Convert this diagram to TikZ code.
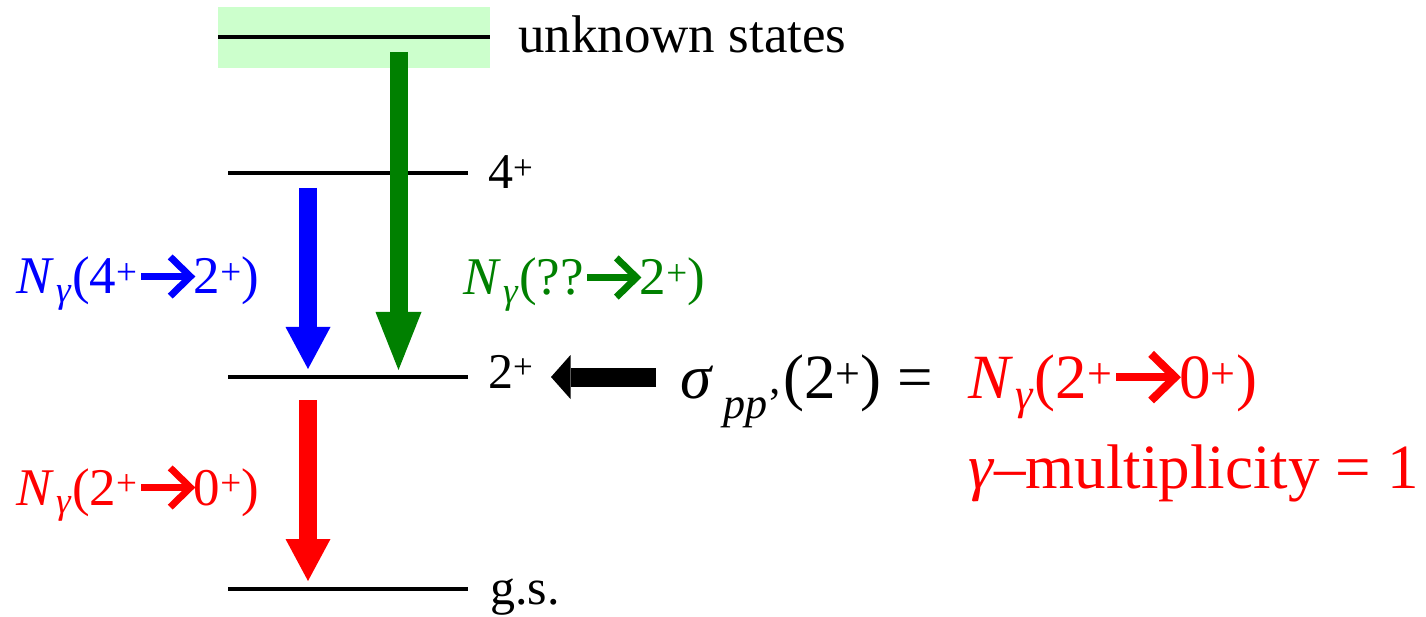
\documentclass[tikz,border=0pt]{standalone}
\usepackage{fontspec}
\setmainfont{Liberation Serif}
\usetikzlibrary{arrows.meta}
\definecolor{pgreen}{RGB}{0,128,0}
\definecolor{lgreen}{RGB}{204,255,204}
\definecolor{pblue}{RGB}{0,0,255}
\definecolor{pred}{RGB}{255,0,0}
\newcommand\thickarr{\tikz[baseline=-0.33em]{\draw[line width=0.13em] (0,0)--(0.9em,0); \draw[line width=0.13em, miter limit=10] (0.55em,0.37em)--(0.93em,0em)--(0.55em,-0.37em);}}
\newcommand\Ng{\textit{N}\kern0.04em\textsubscript{\textit{γ}}}
\begin{document}
\begin{tikzpicture}[x=1pt,y=-1pt,
  level/.style={line width=3.5pt},
  lab/.style={anchor=base west, inner sep=0pt, font=\fontsize{50}{60}\selectfont},
  midlab/.style={anchor=base west, inner sep=0pt, font=\fontsize{53}{64}\selectfont},
  biglab/.style={anchor=base west, inner sep=0pt, font=\fontsize{63}{76}\selectfont},
  blockarr/.style={line width=18pt, -{Triangle[length=42pt, width=45pt, line width=0pt]}}]
\useasboundingbox (0,0) rectangle (1426,617);
% unknown states band
\fill[lgreen] (218,7) rectangle (490,68);
\coordinate (u1) at (218,37); \coordinate (u2) at (490,37);
\draw[level] (u1) -- (u2);
\node[anchor=base west, inner sep=0pt, font=\fontsize{53}{64}\selectfont] (ulab) at (518,53) {unknown states};
% levels
\coordinate (a1) at (228,173); \coordinate (a2) at (468,173);
\coordinate (b1) at (228,377); \coordinate (b2) at (468,377);
\coordinate (c1) at (228,589); \coordinate (c2) at (468,589);
\draw[level] (a1) -- (a2);
\draw[level] (b1) -- (b2);
\draw[level] (c1) -- (c2);
\node[lab] (l4) at (488,189) {4\textsuperscript{+}};
\node[lab] (l2) at (488,388) {2\textsuperscript{+}};
\node[lab] (lgs) at (490,604) {g.s.};
% transitions
\coordinate (bt) at (308,188); \coordinate (bb) at (308,369);
\coordinate (gt) at (398.5,52); \coordinate (gb) at (398.5,370);
\coordinate (rt) at (308,400); \coordinate (rb) at (308,581);
\draw[blockarr, pblue] (bt) -- (bb);
\draw[blockarr, pgreen, -{Triangle[length=58pt, width=46pt, line width=0pt]}] (gt) -- (gb);
\draw[blockarr, pred] (rt) -- (rb);
\node[midlab, pblue] (nb) at (16,294) {\Ng(4\textsuperscript{+}\thickarr 2\textsuperscript{+})};
\node[midlab, pgreen] (ng) at (463,295) {\Ng(??\thickarr 2\textsuperscript{+})};
\node[midlab, pred] (nr) at (16,505) {\Ng(2\textsuperscript{+}\thickarr 0\textsuperscript{+})};
% cross section
\coordinate (kt) at (656,377); \coordinate (kb) at (551,377);
\draw[line width=19pt, -{Triangle[length=19.5pt, width=44pt, line width=0pt]}] (kt) -- (kb);
\node[biglab] (sig) at (680,398) {\textit{σ}\,\textsubscript{\textit{pp}'}(2\textsuperscript{+}) =};
\node[biglab, pred] (nbig) at (968,398) {\Ng(2\textsuperscript{+}\thickarr 0\textsuperscript{+})};
\node[biglab, pred] (mult) at (968,488) {\textit{γ}–multiplicity = 1};
\end{tikzpicture}
\end{document}
